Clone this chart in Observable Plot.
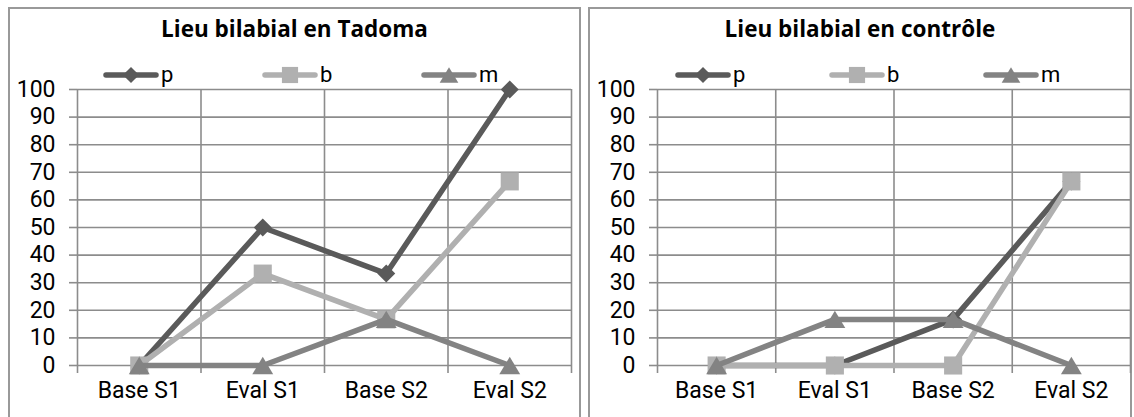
<!DOCTYPE html>
<html>
<head>
<meta charset="utf-8">
<script src="https://cdn.jsdelivr.net/npm/d3@7"></script>
<script src="https://cdn.jsdelivr.net/npm/@observablehq/plot@0.6"></script>
<style>
  html, body { margin: 0; padding: 0; background: #fff; }
  #root { position: relative; width: 1134px; height: 417px; overflow: hidden; font-family: "Open Sans", sans-serif; }
  .frame { position: absolute; box-sizing: border-box; border: 2px solid #999; }
  .title { position: absolute; text-align: center; font-weight: bold; font-size: 22.5px; color: #000; }
  .chart { position: absolute; top: 0; }
  .legend { position: absolute; top: 0; left: 0; }
</style>
</head>
<body>
<div id="root"></div>
<script>
// Share of correct bilabial-place responses (%) per session
const categories = ["Base S1", "Eval S1", "Base S2", "Eval S2"];
const yTicks = [0, 10, 20, 30, 40, 50, 60, 70, 80, 90, 100];
const seriesNames = ["p", "b", "m"];

const tadomaP = [0, 50, 33.3, 100];
const tadomaB = [0, 33.3, 16.7, 66.7];
const tadomaM = [0, 0, 16.7, 0];

const controleP = [0, 0, 16.7, 66.7];
const controleB = [0, 0, 0, 66.7];
const controleM = [0, 16.7, 16.7, 0];

const titles = ["Lieu bilabial en Tadoma", "Lieu bilabial en contrôle"];

// Look of each series
const GRID = "#8c8c8c";
const TICK_FONT = "Roboto";
const seriesColors = ["#5a5a5a", "#b0b0b0", "#838383"];

// Marker shapes: diamond (square turned 45°), square, triangle
const diamond = {draw(ctx, size) { const h = Math.sqrt(size / 2); ctx.moveTo(0, -h); ctx.lineTo(h, 0); ctx.lineTo(0, h); ctx.lineTo(-h, 0); ctx.closePath(); }};
const square = {draw(ctx, size) { const s = Math.sqrt(size) / 2; ctx.rect(-s, -s, 2 * s, 2 * s); }};
const triangle = {draw(ctx, size) { const w = Math.sqrt(size / 0.4167), h = w * 0.8333; ctx.moveTo(0, -h / 2); ctx.lineTo(w / 2, h / 2); ctx.lineTo(-w / 2, h / 2); ctx.closePath(); }};
const seriesSymbols = [diamond, square, triangle];
const seriesR = [7.2, 10.2, 7.6];

const root = document.getElementById("root");

function panelPlot(seriesValues, width, marginLeft, marginRight) {
  const marks = [
    Plot.ruleY(yTicks, {stroke: GRID, strokeWidth: 1.6}),
    Plot.ruleX(d3.range(categories.length + 1), {y1: 0, y2: 100, stroke: GRID, strokeWidth: 1.6}),
    Plot.axisY({ticks: yTicks, tickSize: 8, tickPadding: 14, stroke: GRID, strokeWidth: 1.6, fill: "#000", fontSize: 23, label: null}),
    Plot.axisX({ticks: d3.range(categories.length + 1), tickSize: 8, stroke: GRID, strokeWidth: 1.6, tickFormat: () => "", label: null}),
    Plot.axisX({ticks: categories.map((_, i) => i + 0.5), tickSize: 0, tickPadding: 16, fill: "#000", fontSize: 23,
                tickFormat: d => categories[Math.floor(d)], label: null})
  ];
  seriesValues.forEach((vals, s) => {
    const rows = vals.map((v, i) => ({x: i + 0.5, y: v}));
    marks.push(Plot.line(rows, {x: "x", y: "y", stroke: seriesColors[s], strokeWidth: 5.5, strokeLinejoin: "round", strokeLinecap: "round"}));
    marks.push(Plot.dot(rows, {x: "x", y: "y", symbol: seriesSymbols[s], r: seriesR[s], fill: seriesColors[s], stroke: "none"}));
  });
  return Plot.plot({
    width, height: 417,
    marginTop: 89, marginBottom: 52, marginLeft, marginRight,
    x: {type: "linear", domain: [0, categories.length]},
    y: {domain: [0, 100]},
    style: {fontFamily: TICK_FONT, fontSize: "23px", background: "transparent", overflow: "visible"},
    marks
  });
}

function legend(xs, y) {
  const svg = d3.create("svg").attr("class", "legend").attr("width", 1134).attr("height", 110);
  seriesNames.forEach((name, s) => {
    const cx = xs[s];
    const g = svg.append("g");
    g.append("line").attr("x1", cx - 25).attr("x2", cx + 25).attr("y1", y).attr("y2", y)
      .attr("stroke", seriesColors[s]).attr("stroke-width", 5.5).attr("stroke-linecap", "round");
    const p = d3.path();
    seriesSymbols[s].draw(p, Math.PI * seriesR[s] * seriesR[s] * 0.8);
    g.append("path").attr("d", p.toString()).attr("transform", `translate(${cx},${y})`).attr("fill", seriesColors[s]);
    g.append("text").attr("x", cx + 30).attr("y", y + 7).attr("font-family", TICK_FONT).attr("font-size", 22)
      .attr("fill", "#000").text(name);
  });
  return svg.node();
}

const panels = [
  {frame: [8, 7, 573, 430], svgLeft: 0, width: 580, ml: 77, mr: 9, values: [tadomaP, tadomaB, tadomaM], legendX: [131, 290, 449]},
  {frame: [588, 7, 544, 430], svgLeft: 580, width: 554, ml: 77, mr: 4, values: [controleP, controleB, controleM], legendX: [703, 857, 1011]}
];

panels.forEach((p, k) => {
  const f = document.createElement("div");
  f.className = "frame";
  Object.assign(f.style, {left: p.frame[0] + "px", top: p.frame[1] + "px", width: p.frame[2] + "px", height: p.frame[3] + "px"});
  root.appendChild(f);

  const t = document.createElement("div");
  t.className = "title";
  t.textContent = titles[k];
  Object.assign(t.style, {left: p.frame[0] + "px", width: p.frame[2] + "px", top: "13px"});
  root.appendChild(t);

  const svg = panelPlot(p.values, p.width, p.ml, p.mr);
  svg.classList.add("chart");
  svg.style.left = p.svgLeft + "px";
  root.appendChild(svg);
});

panels.forEach(p => root.appendChild(legend(p.legendX, 75)));
</script>
</body>
</html>
